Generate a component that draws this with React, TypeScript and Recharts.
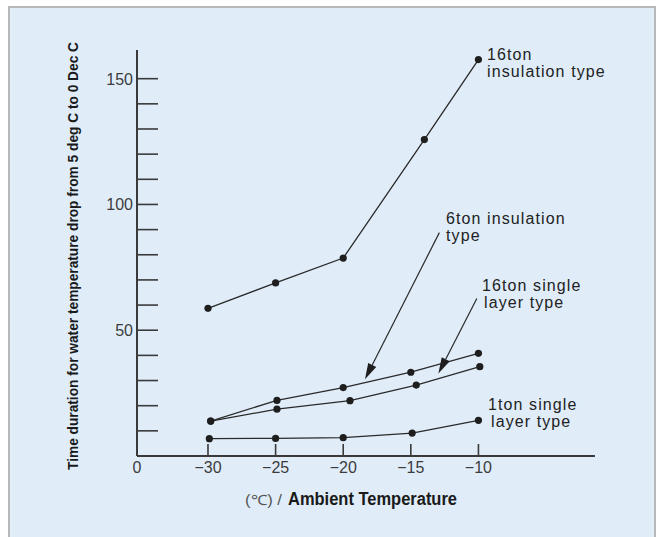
import React from "react";
import {
  LineChart,
  Line,
  XAxis,
  YAxis,
  ReferenceLine,
} from "recharts";

// x tick positions (origin is drawn as "0", the rest are ambient temperatures)
const xTickValues = [-35.25, -30, -25, -20, -15, -10];
const xTickLabels = ["0", "\u221230", "\u221225", "\u221220", "\u221215", "\u221210"];
const yTickValues = [10, 20, 30, 40, 50, 60, 70, 80, 90, 100, 110, 120, 130, 140, 150];
const yLabelled = [50, 100, 150];

const insulation16 = [
  { x: -30, y: 58.7 },
  { x: -25, y: 68.8 },
  { x: -20, y: 78.7 },
  { x: -14, y: 125.8 },
  { x: -10, y: 157.6 },
];
const insulation6 = [
  { x: -29.8, y: 13.9 },
  { x: -24.9, y: 22.1 },
  { x: -20, y: 27.2 },
  { x: -15, y: 33.3 },
  { x: -10, y: 40.8 },
];
const single16 = [
  { x: -29.8, y: 13.9 },
  { x: -24.9, y: 18.6 },
  { x: -19.5, y: 22.0 },
  { x: -14.6, y: 28.2 },
  { x: -9.9, y: 35.5 },
];
const single1 = [
  { x: -29.9, y: 6.9 },
  { x: -25, y: 7.0 },
  { x: -20, y: 7.3 },
  { x: -14.9, y: 9.1 },
  { x: -10, y: 14.2 },
];

// arrow segments pointing from the labels to the lines (data coords)
const arrow6ton = [
  { x: -12.89, y: 88.8 },
  { x: -18.39, y: 30.5 },
];
const arrow16single = [
  { x: -10.12, y: 62.6 },
  { x: -12.96, y: 32.8 },
];

const INK = "#2a2a2a";
const AXIS = "#3a3a3a";
const TICK_TEXT = "#3c3c3c";
const FONT = "'Liberation Sans', Arial, Helvetica, sans-serif";
const NARROW = "'Liberation Sans Narrow', 'Liberation Sans', Arial, sans-serif";

const XTick = (props: any) => {
  const { x, y, payload } = props;
  const i = xTickValues.indexOf(payload.value);
  return (
    <g>
      {i > 0 && <line x1={x} y1={y - 12} x2={x} y2={y} stroke={AXIS} strokeWidth={1.6} />}
      <text x={x} y={y + 17} textAnchor="middle" fontSize={16} fontFamily={FONT} fill={TICK_TEXT}>
        {i >= 0 ? xTickLabels[i] : ""}
      </text>
    </g>
  );
};

const YTick = (props: any) => {
  const { x, y, payload } = props;
  return (
    <g>
      <line x1={x} y1={y} x2={x + 21} y2={y} stroke={AXIS} strokeWidth={1.6} />
      {yLabelled.includes(payload.value) && (
        <text x={x - 4} y={y + 6} textAnchor="end" fontSize={16} fontFamily={FONT} fill={TICK_TEXT}>
          {payload.value}
        </text>
      )}
    </g>
  );
};

const Arrow = (props: any) => {
  const { x1, y1, x2, y2 } = props;
  const dx = x2 - x1;
  const dy = y2 - y1;
  const len = Math.sqrt(dx * dx + dy * dy);
  const ux = dx / len;
  const uy = dy / len;
  const hl = 16;
  const hw = 4.5;
  const bx = x2 - ux * hl;
  const by = y2 - uy * hl;
  return (
    <g>
      <line x1={x1} y1={y1} x2={bx} y2={by} stroke={INK} strokeWidth={1.2} />
      <polygon
        points={`${x2},${y2} ${bx - uy * hw},${by + ux * hw} ${bx + uy * hw},${by - ux * hw}`}
        fill="#1e1e1e"
      />
    </g>
  );
};

const dot = { r: 3.6, fill: "#1e1e1e", stroke: "none" };

export default function App() {
  const labelStyle = { fontSize: 16, fontFamily: FONT, fill: "#222", letterSpacing: 1.1 };
  return (
    <div style={{ position: "absolute", left: 0, top: 0, width: 664, height: 537 }}>
      <div
        style={{
          position: "absolute",
          left: 8,
          top: 6,
          width: 644,
          height: 540,
          border: "2px solid #b8b8b8",
          background: "#e0edf9",
        }}
      />
      <div style={{ position: "absolute", left: 0, top: 0 }}>
        <LineChart
          width={664}
          height={537}
          margin={{ top: 50, right: 69, left: 77, bottom: 51 }}
        >
          <XAxis
            type="number"
            dataKey="x"
            domain={[-35.25, -1.38]}
            ticks={xTickValues}
            interval={0}
            tickSize={0}
            tickMargin={0}
            tickLine={false}
            tick={<XTick />}
            height={30}
            axisLine={{ stroke: AXIS, strokeWidth: 2 }}
            allowDataOverflow
          />
          <YAxis
            type="number"
            dataKey="y"
            domain={[0, 161.4]}
            ticks={yTickValues}
            interval={0}
            tickSize={0}
            tickMargin={0}
            tickLine={false}
            tick={<YTick />}
            width={60}
            axisLine={{ stroke: AXIS, strokeWidth: 2 }}
            allowDataOverflow
          />
          <Line data={insulation16} dataKey="y" type="linear" stroke={INK} strokeWidth={1.3} dot={dot} isAnimationActive={false} />
          <Line data={insulation6} dataKey="y" type="linear" stroke={INK} strokeWidth={1.3} dot={dot} isAnimationActive={false} />
          <Line data={single16} dataKey="y" type="linear" stroke={INK} strokeWidth={1.3} dot={dot} isAnimationActive={false} />
          <Line data={single1} dataKey="y" type="linear" stroke={INK} strokeWidth={1.3} dot={dot} isAnimationActive={false} />
          <ReferenceLine segment={arrow6ton} shape={(p: any) => <Arrow {...p} />} ifOverflow="visible" />
          <ReferenceLine segment={arrow16single} shape={(p: any) => <Arrow {...p} />} ifOverflow="visible" />
        </LineChart>
      </div>
      <svg
        width={664}
        height={537}
        style={{ position: "absolute", left: 0, top: 0, pointerEvents: "none" }}
      >
        <text {...labelStyle} x={487} y={60}>16ton</text>
        <text {...labelStyle} x={487} y={77}>insulation type</text>
        <text {...labelStyle} x={446} y={224}>6ton insulation</text>
        <text {...labelStyle} x={446} y={241}>type</text>
        <text {...labelStyle} x={482} y={291}>16ton single</text>
        <text {...labelStyle} x={484} y={308}>layer type</text>
        <text {...labelStyle} x={488} y={410}>1ton single</text>
        <text {...labelStyle} x={491} y={427}>layer type</text>
        <text
          x={73}
          y={256}
          transform="rotate(-90, 73, 256)"
          textAnchor="middle"
          dominantBaseline="central"
          fontSize={14}
          fontWeight="bold"
          fontFamily={NARROW}
          fill="#1a1a1a"
          textLength={428}
          lengthAdjust="spacingAndGlyphs"
        >
          Time duration for water temperature drop from 5 deg C to 0 Dec C
        </text>
        <text x={245} y={505} fontSize={14} fontFamily={FONT} fill="#555" textLength={37} lengthAdjust="spacingAndGlyphs">
          (℃) /
        </text>
        <text
          x={288}
          y={505}
          fontSize={18}
          fontWeight="bold"
          fontFamily={NARROW}
          fill="#1a1a1a"
          textLength={169}
          lengthAdjust="spacingAndGlyphs"
        >
          Ambient Temperature
        </text>
      </svg>
    </div>
  );
}
